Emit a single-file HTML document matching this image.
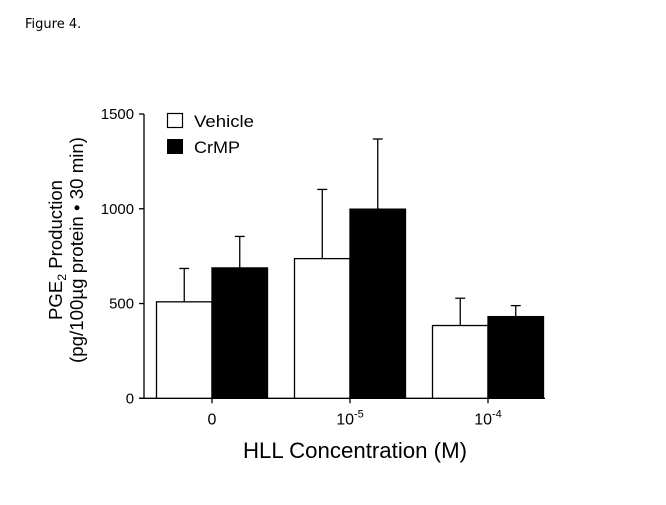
<!DOCTYPE html>
<html><head><meta charset="utf-8"><style>
body{margin:0;background:#fff;}
svg text{font-family:"Liberation Sans",Arial,sans-serif;}
</style></head><body>
<svg width="666" height="500" viewBox="0 0 666 500" xmlns="http://www.w3.org/2000/svg">
<text x="25" y="28" font-size="13" style="font-family:'DejaVu Sans',sans-serif">Figure 4.</text>
<g id="plot"></g>
<text transform="translate(62,250) rotate(-90)" text-anchor="middle" font-size="18" textLength="140" lengthAdjust="spacingAndGlyphs">PGE<tspan font-size="12" dy="4">2</tspan><tspan dy="-4"> Production</tspan></text>
<text transform="translate(83,250) rotate(-90)" text-anchor="middle" font-size="18" textLength="226" lengthAdjust="spacingAndGlyphs">(pg/100µg protein • 30 min)</text>
<text x="355" y="458" text-anchor="middle" font-size="22" textLength="224" lengthAdjust="spacingAndGlyphs">HLL Concentration (M)</text>
<rect x="167.5" y="113.5" width="15" height="14" fill="#fff" stroke="#000" stroke-width="1.2"/>
<text x="194" y="127" font-size="17" textLength="60" lengthAdjust="spacingAndGlyphs">Vehicle</text>
<rect x="167" y="139" width="16" height="15" fill="#000"/>
<text x="194" y="153" font-size="17" textLength="46" lengthAdjust="spacingAndGlyphs">CrMP</text>
</svg>
<script>
const categories=["0","10-5","10-4"];
const vehicle=[509,737,384];
const vehicleErr=[685,1102,528];
const crmp=[688,998,431];
const crmpErr=[854,1368,489];
const yTicks=[0,500,1000,1500];
const NS="http://www.w3.org/2000/svg";
const g=document.getElementById('plot');
const y0=398.3,yk=284.3/1500;
function y(v){return y0-v*yk;}
const centers=[212,350,488],bw=55.5;
function mk(t,a){const e=document.createElementNS(NS,t);for(const k in a)e.setAttribute(k,a[k]);g.appendChild(e);return e;}
let ax=mk('line',{x1:144,y1:y(1500),x2:144,y2:y0,stroke:'#000','stroke-width':1.3});


let xa=mk('line',{x1:139,y1:y0,x2:545,y2:y0,stroke:'#000','stroke-width':1.3});


yTicks.forEach(v=>{
 let t=mk('line',{x1:139,x2:144,y1:y(v),y2:y(v),stroke:'#000','stroke-width':1.3});
 
 
 const s=String(v);
 let l=mk('text',{x:134,y:y(v)+5,'text-anchor':'end','font-size':15,textLength:s.length*8.3,lengthAdjust:'spacingAndGlyphs'});
 l.textContent=s;
 
 
});
categories.forEach((c,i)=>{
 const cx=centers[i];
 function bar(x,v,e,fill,name){
  let el=mk('line',{x1:x+bw/2,x2:x+bw/2,y1:y(v),y2:y(e),stroke:'#000','stroke-width':1.3});
  
  
  let cp=mk('line',{x1:x+bw/2-5,x2:x+bw/2+5,y1:y(e),y2:y(e),stroke:'#000','stroke-width':1.3});
  
  
  let r=mk('rect',{x:x,y:y(v),width:bw,height:y0-y(v),fill:fill,stroke:'#000','stroke-width':1.3});
  
  
 }
 bar(cx-bw,vehicle[i],vehicleErr[i],'#fff','vehicle');
 bar(cx,crmp[i],crmpErr[i],'#000','crmp');
 let t=mk('line',{x1:cx,x2:cx,y1:y0,y2:y0+5,stroke:'#000','stroke-width':1.3});
 
 
 let l=mk('text',{x:cx,y:y0+26,'text-anchor':'middle','font-size':16});
 if(c.indexOf('-')>0){const p=c.split('-');l.innerHTML=p[0]+'<tspan font-size="11" dy="-7">-'+p[1]+'</tspan>';}
 else l.textContent=c;
 
 
});
</script>
</body></html>
